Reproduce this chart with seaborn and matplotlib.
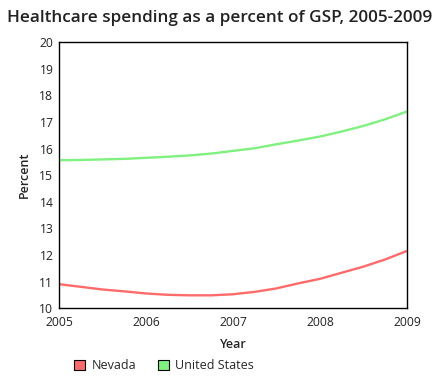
import matplotlib
matplotlib.use("Agg")
import matplotlib.pyplot as plt
from matplotlib.patches import Patch
import pandas as pd
import seaborn as sns

# values, quarter-year steps
years = [2005, 2005.25, 2005.5, 2005.75, 2006, 2006.25, 2006.5, 2006.75, 2007,
         2007.25, 2007.5, 2007.75, 2008, 2008.25, 2008.5, 2008.75, 2009]
nevada = [10.90, 10.80, 10.70, 10.63, 10.55, 10.50, 10.48, 10.48, 10.52,
          10.61, 10.74, 10.93, 11.10, 11.33, 11.56, 11.83, 12.15]
united_states = [15.56, 15.57, 15.59, 15.61, 15.65, 15.69, 15.74, 15.81, 15.91,
                 16.01, 16.16, 16.30, 16.45, 16.64, 16.85, 17.10, 17.39]

series = ["Nevada", "United States"]
colors = ["#ff6b6b", "#80f080"]
year_ticks = [2005, 2006, 2007, 2008, 2009]

df = pd.DataFrame({
    "Year": years * 2,
    "Percent": nevada + united_states,
    "Region": [series[0]] * len(years) + [series[1]] * len(years),
})

sns.set_style("white")
plt.rcParams["font.family"] = ["Open Sans", "DejaVu Sans"]

fig = plt.figure(figsize=(4.4, 3.9), dpi=100)
ax = fig.add_axes([0.134, 0.21, 0.791, 0.682])

sns.lineplot(data=df, x="Year", y="Percent", hue="Region", palette=colors,
             linewidth=1.7, ax=ax, legend=False)

ax.set_xlim(2005, 2009)
ax.set_ylim(10, 20)
ax.set_xticks(year_ticks)
ax.set_xticklabels([str(y) for y in year_ticks])
ax.set_yticks(range(10, 21))
ax.tick_params(axis="x", length=0, labelsize=8.7, pad=6, colors="#222222")
ax.tick_params(axis="y", length=0, labelsize=8.7, pad=4, colors="#222222")
for s in ax.spines.values():
    s.set_color("black")
    s.set_linewidth(1.0)

ax.set_xlabel("Year", fontsize=9, fontweight="semibold", labelpad=6)
ax.set_ylabel("Percent", fontsize=9, fontweight="semibold", labelpad=6)

fig.text(0.5, 0.955, "Healthcare spending as a percent of GSP, 2005-2009",
         ha="center", va="center", fontsize=12.3, fontweight="semibold", color="#222222")

handles = [Patch(facecolor=c, edgecolor="black", linewidth=0.8, label=s)
           for s, c in zip(series, colors)]
fig.legend(handles=handles, loc="center left", bbox_to_anchor=(0.143, 0.062),
           ncol=2, frameon=False, fontsize=9, handlelength=0.9, handleheight=0.9,
           handletextpad=0.5, columnspacing=1.7)

fig.savefig("out.png", dpi=100)
